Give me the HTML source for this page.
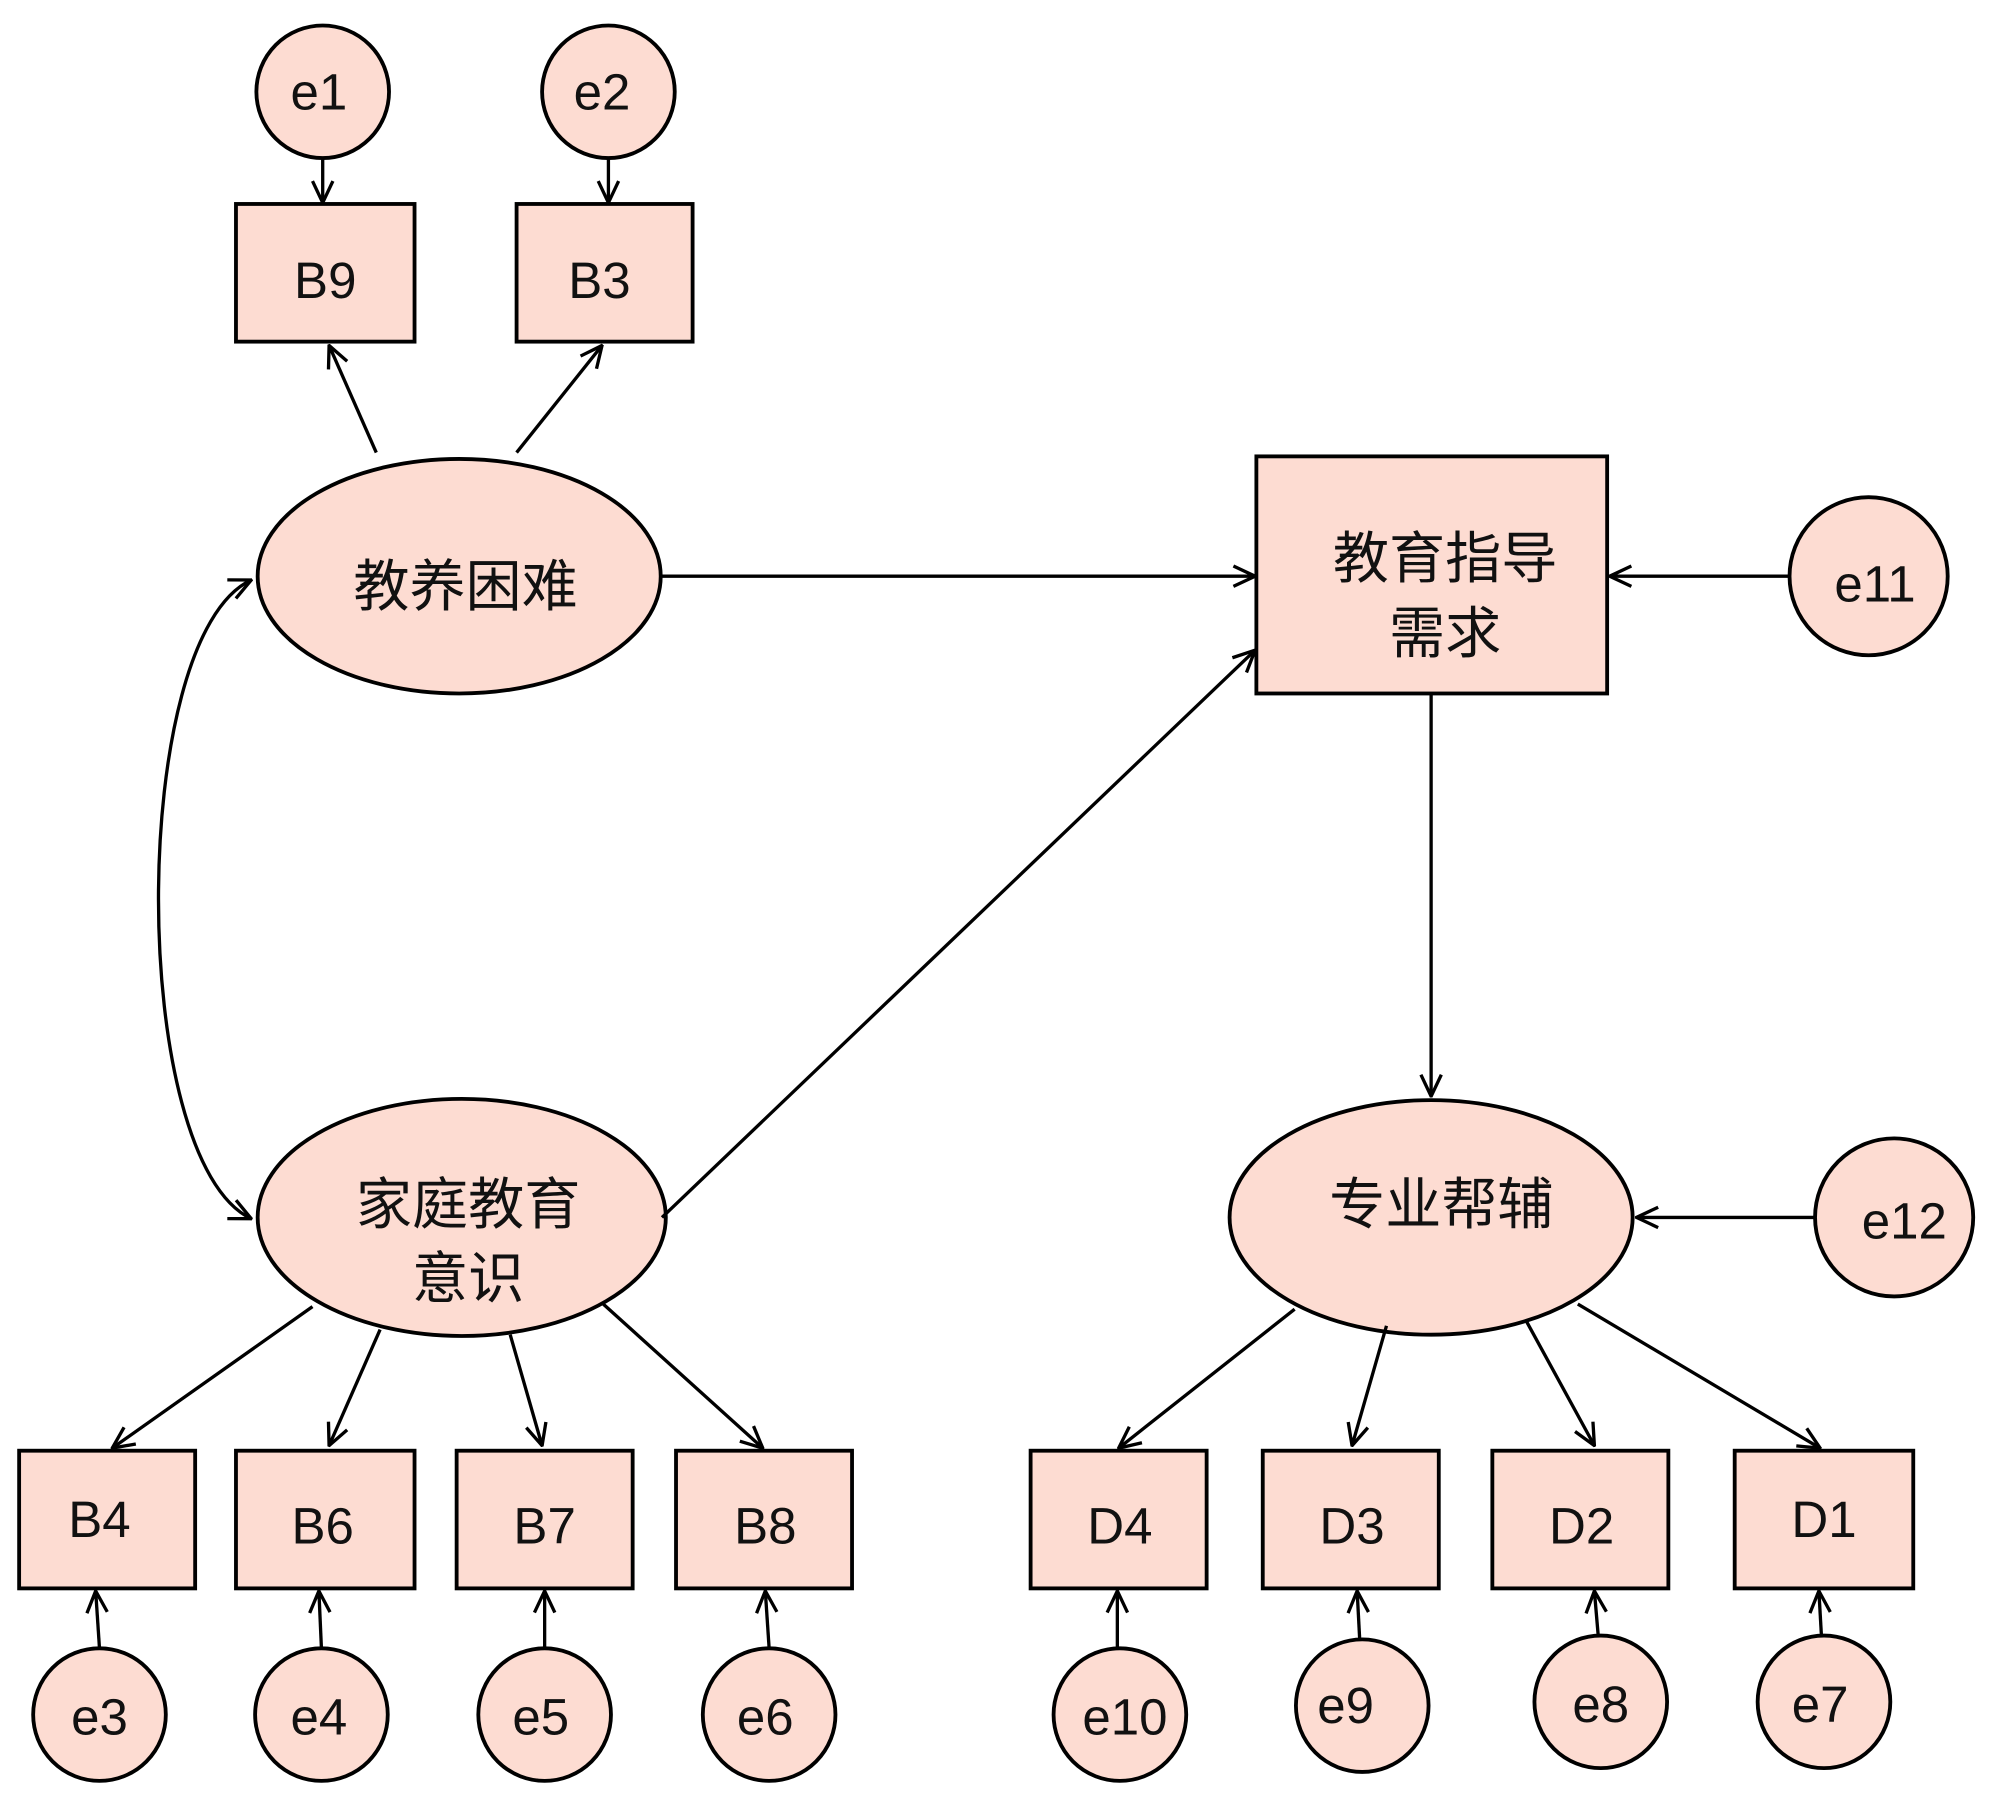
<!DOCTYPE html>
<html><head><meta charset="utf-8"><style>
html,body{margin:0;padding:0;background:#fff;}
svg{display:block;}
text{font-family:"Liberation Sans","Noto Sans CJK SC",sans-serif;fill:#111;text-anchor:middle;dominant-baseline:central;}
.s{fill:#fddcd2;stroke:#000;stroke-width:3;}
.l{stroke:#000;stroke-width:2.6;fill:none;marker-end:url(#a);}
</style></head><body>
<svg width="2000" height="1800" viewBox="0 0 1568 1412" preserveAspectRatio="none">
<defs>
<marker id="a" viewBox="0 0 20 20" refX="19" refY="10" markerWidth="20" markerHeight="20" markerUnits="userSpaceOnUse" orient="auto-start-reverse">
<path d="M2,2 L19,10 L2,18" fill="none" stroke="#000" stroke-width="2.6"/>
</marker>
</defs>
<!-- top -->
<circle class="s" cx="253" cy="72" r="52"/><text x="250" y="72" font-size="40">e1</text>
<circle class="s" cx="477" cy="72" r="52"/><text x="472" y="72" font-size="40">e2</text>
<rect class="s" x="185" y="160" width="140" height="108"/><text x="255" y="220" font-size="40">B9</text>
<rect class="s" x="405" y="160" width="138" height="108"/><text x="470" y="220" font-size="40">B3</text>
<line class="l" x1="253" y1="124" x2="253" y2="159"/>
<line class="l" x1="477" y1="124" x2="477" y2="159"/>
<ellipse class="s" cx="360" cy="452" rx="158" ry="92"/><text x="365" y="460" font-size="44">教养困难</text>
<line class="l" x1="295" y1="355" x2="258" y2="271"/>
<line class="l" x1="405" y1="355" x2="472" y2="271"/>
<rect class="s" x="985" y="358" width="275" height="186"/>
<text x="1133" y="438" font-size="44">教育指导</text><text x="1133" y="497" font-size="44">需求</text>
<circle class="s" cx="1465" cy="452" r="62"/><text x="1470" y="458" font-size="40">e11</text>
<line class="l" x1="1403" y1="452" x2="1262" y2="452"/>
<line class="l" x1="519" y1="452" x2="984" y2="452"/>
<path class="l" d="M197,455 C100,500 100,910 197,956" marker-start="url(#a)"/>
<ellipse class="s" cx="362" cy="955" rx="160" ry="93"/>
<text x="367" y="945" font-size="44">家庭教育</text><text x="367" y="1003" font-size="44">意识</text>
<line class="l" x1="519" y1="955" x2="984" y2="510"/>
<line class="l" x1="1122" y1="544" x2="1122" y2="860"/>
<ellipse class="s" cx="1122" cy="955" rx="158" ry="92"/><text x="1130" y="945" font-size="44">专业帮辅</text>
<circle class="s" cx="1485" cy="955" r="62"/><text x="1493" y="958" font-size="40">e12</text>
<line class="l" x1="1423" y1="955" x2="1283" y2="955"/>
<!-- bottom rects -->
<rect class="s" x="15" y="1138" width="138" height="108"/><text x="78" y="1192" font-size="40">B4</text>
<rect class="s" x="185" y="1138" width="140" height="108"/><text x="253" y="1197" font-size="40">B6</text>
<rect class="s" x="358" y="1138" width="138" height="108"/><text x="427" y="1197" font-size="40">B7</text>
<rect class="s" x="530" y="1138" width="138" height="108"/><text x="600" y="1197" font-size="40">B8</text>
<rect class="s" x="808" y="1138" width="138" height="108"/><text x="878" y="1197" font-size="40">D4</text>
<rect class="s" x="990" y="1138" width="138" height="108"/><text x="1060" y="1197" font-size="40">D3</text>
<rect class="s" x="1170" y="1138" width="138" height="108"/><text x="1240" y="1197" font-size="40">D2</text>
<rect class="s" x="1360" y="1138" width="140" height="108"/><text x="1430" y="1192" font-size="40">D1</text>
<line class="l" x1="245" y1="1025" x2="88" y2="1136"/>
<line class="l" x1="298" y1="1043" x2="258" y2="1134"/>
<line class="l" x1="400" y1="1047" x2="425" y2="1134"/>
<line class="l" x1="473" y1="1023" x2="598" y2="1136"/>
<line class="l" x1="1015" y1="1027" x2="877" y2="1136"/>
<line class="l" x1="1087" y1="1040" x2="1060" y2="1134"/>
<line class="l" x1="1197" y1="1037" x2="1250" y2="1134"/>
<line class="l" x1="1237" y1="1023" x2="1427" y2="1136"/>
<!-- bottom circles -->
<circle class="s" cx="78" cy="1345" r="52"/><text x="78" y="1347" font-size="40">e3</text>
<circle class="s" cx="252" cy="1345" r="52"/><text x="250" y="1347" font-size="40">e4</text>
<circle class="s" cx="427" cy="1345" r="52"/><text x="424" y="1347" font-size="40">e5</text>
<circle class="s" cx="603" cy="1345" r="52"/><text x="600" y="1347" font-size="40">e6</text>
<circle class="s" cx="878" cy="1345" r="52"/><text x="882" y="1347" font-size="40">e10</text>
<circle class="s" cx="1068" cy="1338" r="52"/><text x="1055" y="1338" font-size="40">e9</text>
<circle class="s" cx="1255" cy="1335" r="52"/><text x="1255" y="1337" font-size="40">e8</text>
<circle class="s" cx="1430" cy="1335" r="52"/><text x="1427" y="1337" font-size="40">e7</text>
<line class="l" x1="78" y1="1293" x2="75" y2="1248"/>
<line class="l" x1="252" y1="1293" x2="250" y2="1248"/>
<line class="l" x1="427" y1="1293" x2="427" y2="1248"/>
<line class="l" x1="603" y1="1293" x2="600" y2="1248"/>
<line class="l" x1="876" y1="1293" x2="876" y2="1248"/>
<line class="l" x1="1066" y1="1286" x2="1064" y2="1248"/>
<line class="l" x1="1253" y1="1283" x2="1250" y2="1248"/>
<line class="l" x1="1428" y1="1283" x2="1426" y2="1248"/>
</svg>
</body></html>
